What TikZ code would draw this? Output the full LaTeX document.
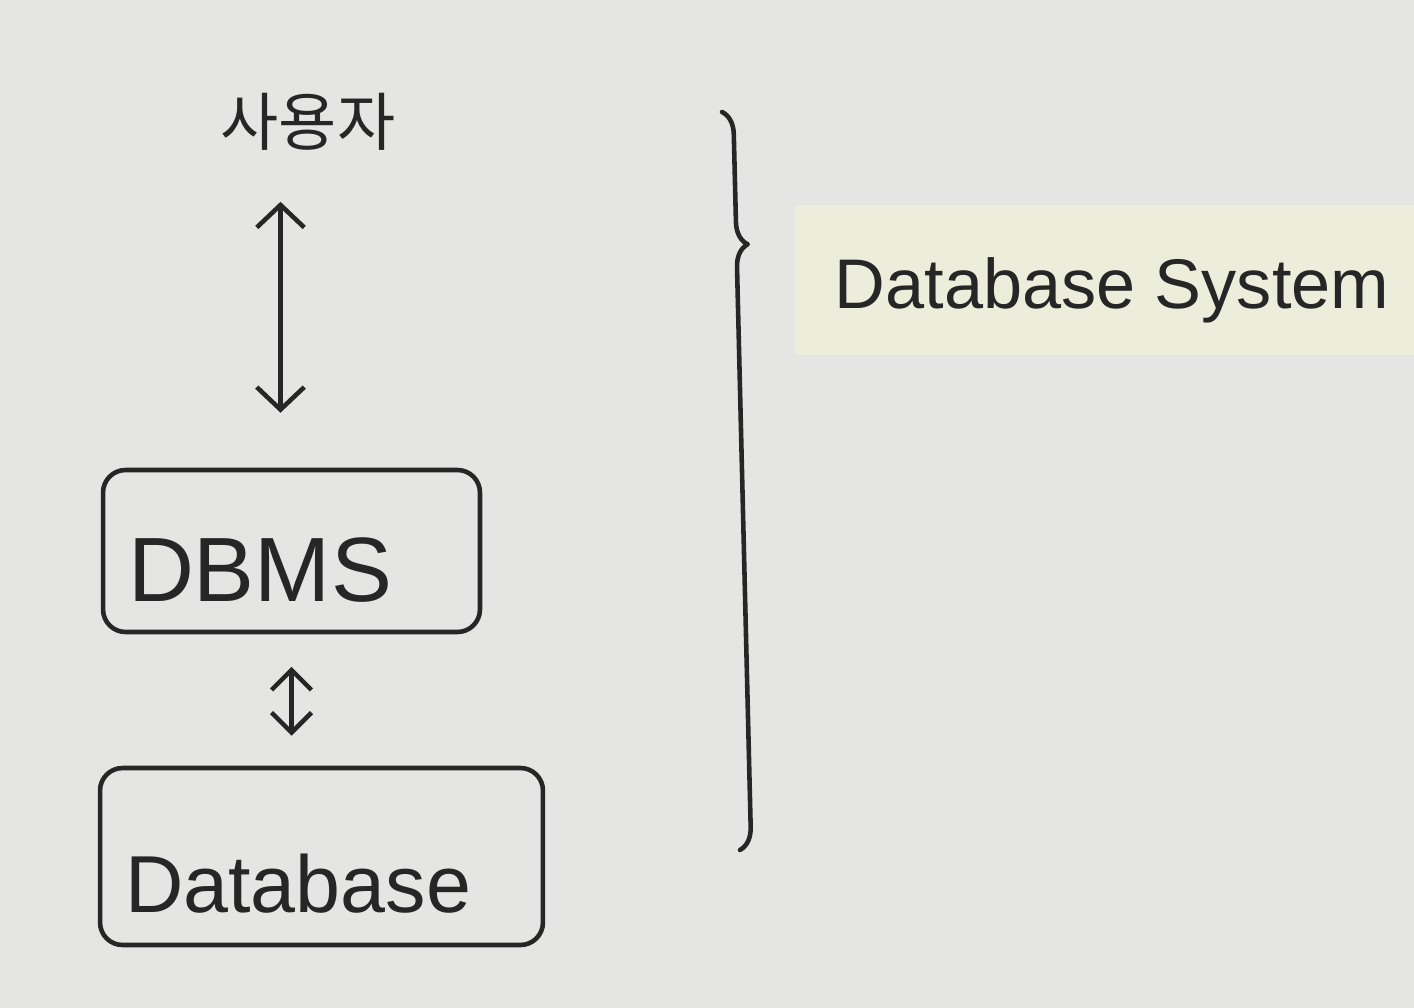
\documentclass[tikz,border=0pt]{standalone}
\usepackage{fontspec}
\setmainfont{Liberation Sans}
\newfontfamily\kofont{Noto Sans CJK KR}
\usepackage{xcolor}
\usetikzlibrary{positioning,arrows.meta,decorations.pathreplacing}
\definecolor{paper}{HTML}{E5E5E3}
\definecolor{tape}{HTML}{ECEDDA}
\definecolor{ink}{HTML}{262626}
\tikzset{
  pen/.style={draw=ink, line width=2.6pt, line cap=round, line join=round},
  box/.style={pen, rounded corners=0.45cm, text=ink, inner xsep=0.5cm, align=left, text depth=0pt},
  twoway/.style={pen, {Straight Barb[length=0.45cm,width=0.95cm]}-{Straight Barb[length=0.45cm,width=0.95cm]}},
  shortway/.style={pen, {Straight Barb[length=0.4cm,width=0.8cm]}-{Straight Barb[length=0.4cm,width=0.8cm]}},
}

\begin{document}
\begin{tikzpicture}[x=0.02cm, y=-0.02cm]
\fill[paper] (0,0) rectangle (1414,1008);
\useasboundingbox (0,0) rectangle (1414,1008);
\fill[tape] (795,205) rectangle (1414,355);
\node[text=ink, font=\kofont\fontsize{36}{40}\selectfont] (user) at (308,122) {사용자};
\node[box, minimum width=7.54cm, minimum height=3.24cm, text width=6.54cm, text height=58pt, font=\fontsize{52}{56}\selectfont] (dbms) at (291.5,551) {DBMS};
\node[box, minimum width=8.86cm, minimum height=3.54cm, text width=7.86cm, text height=64pt, font=\fontsize{46}{50}\selectfont] (db) at (321.5,856.5) {Database};
\draw[twoway, shorten <=0.9cm, shorten >=1.1cm] ([xshift=-0.22cm]user.south -| dbms) -- ([xshift=-0.22cm]dbms.north);
\draw[shortway, shorten <=0.65cm, shorten >=0.6cm] (dbms.south) -- (dbms.south |- db.north);
% brace round the three parts
\coordinate (btop) at (722,112);
\coordinate (bbot) at (740,850);
\draw[pen, decorate, decoration={brace, amplitude=0.45cm, aspect=0.18}] (btop) -- (bbot);
\node[text=ink, font=\fontsize{40}{44}\selectfont] (sys) at (1112,290) {Database System};
\end{tikzpicture}
\end{document}
